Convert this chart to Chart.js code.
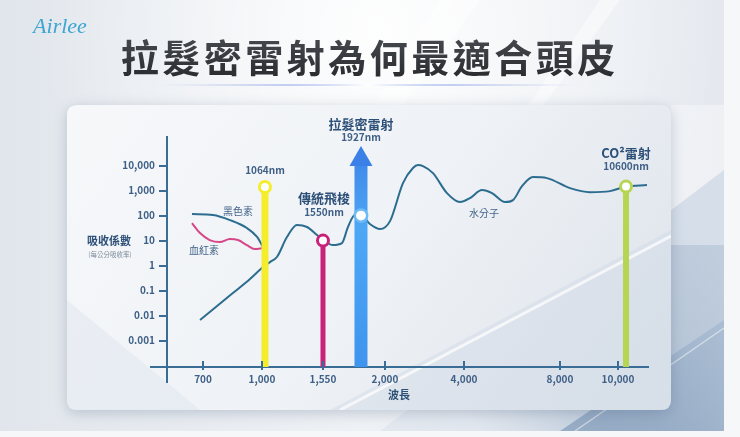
<!DOCTYPE html>
<html><head><meta charset="utf-8">
<script src="https://cdn.jsdelivr.net/npm/chart.js@4.4.1/dist/chart.umd.min.js"></script>
<style>html,body{margin:0;padding:0;background:#f5f6f8;overflow:hidden}canvas{display:block}</style>
</head><body>
<canvas id="c" width="740" height="437"></canvas>
<script>
// ---------- data ----------
const xTickWavelengths = [700, 1000, 1550, 2000, 4000, 8000, 10000];
const xTickLabels = ['700', '1,000', '1,550', '2,000', '4,000', '8,000', '10,000'];
const yTickValues = [0.001, 0.01, 0.1, 1, 10, 100, 1000, 10000];
const yTickLabels = ['0.001', '0.01', '0.1', '1', '10', '100', '1,000', '10,000'];

const waterNm  = [685, 852, 939, 1021, 1106, 1164, 1248, 1332, 1416, 1500, 1550, 1649, 1738, 1798, 1867, 1927, 1954, 1985, 2127, 2455, 2708, 2835, 2961, 3215, 3569, 3899, 4250, 4750, 5167, 5709, 6042, 6417, 6875, 7459, 8345, 9035, 9724, 10600, 12175];
const waterAbs = [0.0066, 0.079, 0.29, 0.87, 1.38, 2.2, 13.8, 42, 35, 16.6, 10.5, 6.6, 7.9, 35, 105, 105, 46, 29, 60, 2000, 8000, 10500, 9500, 5000, 790, 347, 500, 1050, 790, 347, 417, 1500, 3470, 3160, 1260, 870, 955, 1450, 1660];

const melaninNm  = [644, 751, 837, 923, 975, 1021];
const melaninAbs = [115, 105, 66, 32, 14, 5.5];

const hemoNm  = [644, 685, 734, 785, 837, 878, 923, 963, 1021];
const hemoAbs = [50, 20, 10.5, 8.7, 11.5, 10.5, 6.6, 4.6, 5];

const laserTitles = ['', '傳統飛梭', '拉髮密雷射', 'CO²雷射'];
const laserLabels = ['1064nm', '1550nm', '1927nm', '10600nm'];
const laserNm  = [1064, 1550, 1927, 10600];
const laserAbs = [1400, 10, 100, 1450];
const arrowTopAbs = 18000;

const curveNames = ['黑色素', '血紅素', '水分子'];
const curveNameNm  = [878, 705, 4834];
const curveNameAbs = [151, 4.2, 126];

// ---------- axis (stylised, not to scale) ----------
const axisKnotNm   = [517, 700, 1000, 1064, 1550, 1927, 2000, 4000, 8000, 10000, 10600, 12250];
const axisKnotFrac = [0, 0.0748, 0.1975, 0.2037, 0.3243, 0.4033, 0.4532, 0.6175, 0.8170, 0.9376, 0.9543, 1];
function warp(nm) {
  const k = axisKnotNm, f = axisKnotFrac;
  let i = 0;
  while (i < k.length - 2 && nm > k[i + 1]) i++;
  return f[i] + (nm - k[i]) / (k[i + 1] - k[i]) * (f[i + 1] - f[i]);
}
const Y_MIN = 8.7e-5, Y_MAX = 1.4e5;

const AXIS = '#3a6d96', TICK = '#3e5f86', DARK = '#2d5078';
const FONT = '"Noto Sans CJK TC","Noto Sans",sans-serif';

function pts(xs, ys) { return xs.map((x, i) => ({ x: warp(x), y: ys[i] })); }

const laserColors = ['#f5ed2c', '#c8227a', '#4a9df0', '#b6d552'];
const laserWidths = [7, 5, 13, 6];

const datasets = [];
laserNm.forEach((nm, i) => {
  if (i === 2) {
    datasets.push({
      data: [{ x: warp(nm), y: Y_MIN }, { x: warp(nm), y: laserAbs[i] }, { x: warp(nm), y: arrowTopAbs }],
      borderColor: (c) => {
        const a = c.chart.chartArea; if (!a) return laserColors[i];
        const g = c.chart.ctx.createLinearGradient(0, a.top, 0, a.bottom);
        g.addColorStop(0, '#3a7fe6'); g.addColorStop(0.4, '#4ea7f5'); g.addColorStop(1, '#3f94ee');
        return g;
      },
      borderWidth: laserWidths[i], borderCapStyle: 'butt', tension: 0,
      pointRadius: [0, 6.2, 13.3], pointStyle: ['circle', 'circle', 'triangle'],
      pointBackgroundColor: ['rgba(0,0,0,0)', '#ffffff', '#3a80e7'],
      pointBorderColor: ['rgba(0,0,0,0)', '#6dbcf8', '#3a80e7'],
      pointBorderWidth: [0, 2.5, 0], order: 0, clip: false
    });
  } else {
    datasets.push({
      data: [{ x: warp(nm), y: Y_MIN }, { x: warp(nm), y: laserAbs[i] }],
      borderColor: laserColors[i], borderWidth: laserWidths[i], borderCapStyle: 'butt', tension: 0,
      pointRadius: [0, 5.5], pointBackgroundColor: ['rgba(0,0,0,0)', '#ffffff'],
      pointBorderColor: ['rgba(0,0,0,0)', laserColors[i]], pointBorderWidth: [0, 3], order: 0, clip: false
    });
  }
});
datasets.push({ data: pts(waterNm, waterAbs), borderColor: '#2c6d8f', borderWidth: 2, pointRadius: 0, cubicInterpolationMode: 'monotone', order: 1 });
datasets.push({ data: pts(melaninNm, melaninAbs), borderColor: '#2c6d8f', borderWidth: 2, pointRadius: 0, cubicInterpolationMode: 'monotone', order: 1 });
datasets.push({ data: pts(hemoNm, hemoAbs), borderColor: '#d6478a', borderWidth: 2, pointRadius: 0, cubicInterpolationMode: 'monotone', order: 1 });

function roundRect(ctx, x, y, w, h, r) {
  ctx.beginPath();
  ctx.moveTo(x + r, y); ctx.lineTo(x + w - r, y); ctx.quadraticCurveTo(x + w, y, x + w, y + r);
  ctx.lineTo(x + w, y + h - r); ctx.quadraticCurveTo(x + w, y + h, x + w - r, y + h);
  ctx.lineTo(x + r, y + h); ctx.quadraticCurveTo(x, y + h, x, y + h - r);
  ctx.lineTo(x, y + r); ctx.quadraticCurveTo(x, y, x + r, y); ctx.closePath();
}

const bgPlugin = {
  id: 'bg',
  beforeDraw(chart) {
    const ctx = chart.ctx; ctx.save();
    ctx.fillStyle = '#f6f7f9'; ctx.fillRect(0, 0, 740, 437);
    let g = ctx.createLinearGradient(0, 0, 724, 0);
    g.addColorStop(0, '#e1e6ec'); g.addColorStop(0.5, '#eef1f5'); g.addColorStop(1, '#e5e9ef');
    ctx.fillStyle = g; ctx.fillRect(0, 0, 724, 431);
    let rg = ctx.createRadialGradient(380, 30, 10, 380, 30, 340);
    rg.addColorStop(0, 'rgba(255,255,255,0.9)'); rg.addColorStop(1, 'rgba(255,255,255,0)');
    ctx.fillStyle = rg; ctx.fillRect(0, 0, 724, 160);
    ctx.fillStyle = 'rgba(255,255,255,0.45)';
    ctx.beginPath(); ctx.moveTo(440, 0); ctx.lineTo(480, 0); ctx.lineTo(400, 110); ctx.lineTo(370, 110); ctx.fill();
    ctx.beginPath(); ctx.moveTo(600, 0); ctx.lineTo(620, 0); ctx.lineTo(540, 110); ctx.lineTo(525, 110); ctx.fill();
    ctx.beginPath(); ctx.moveTo(380, 431); ctx.lineTo(724, 170); ctx.lineTo(724, 431); ctx.closePath();
    g = ctx.createLinearGradient(480, 431, 724, 260);
    g.addColorStop(0, 'rgba(165,184,207,0.15)'); g.addColorStop(0.5, 'rgba(150,172,198,0.65)'); g.addColorStop(1, 'rgba(180,196,215,0.75)');
    ctx.fillStyle = g; ctx.fill();
    ctx.beginPath(); ctx.moveTo(560, 431); ctx.lineTo(724, 320); ctx.lineTo(724, 431); ctx.closePath();
    g = ctx.createLinearGradient(600, 431, 724, 340);
    g.addColorStop(0, 'rgba(130,155,185,0.7)'); g.addColorStop(1, 'rgba(165,185,208,0.8)');
    ctx.fillStyle = g; ctx.fill();
    ctx.strokeStyle = 'rgba(255,255,255,0.5)'; ctx.lineWidth = 1.5;
    ctx.beginPath(); ctx.moveTo(575, 431); ctx.lineTo(724, 328); ctx.stroke();
    ctx.fillStyle = 'rgba(255,255,255,0.35)'; ctx.fillRect(671, 105, 53, 140);
    ctx.save();
    ctx.shadowColor = 'rgba(70,90,120,0.28)'; ctx.shadowBlur = 14; ctx.shadowOffsetY = 3;
    roundRect(ctx, 67, 105, 604, 305, 10);
    g = ctx.createLinearGradient(67, 105, 560, 470);
    g.addColorStop(0, '#f6f8fa'); g.addColorStop(0.55, '#eff2f6'); g.addColorStop(1, '#dfe5ec');
    ctx.fillStyle = g; ctx.fill();
    ctx.restore();
    ctx.save(); roundRect(ctx, 67, 105, 604, 305, 10); ctx.clip();
    ctx.fillStyle = 'rgba(200,212,226,0.35)';
    ctx.beginPath(); ctx.moveTo(330, 410); ctx.lineTo(671, 230); ctx.lineTo(671, 410); ctx.closePath(); ctx.fill();
    ctx.strokeStyle = 'rgba(255,255,255,0.7)'; ctx.lineWidth = 3;
    ctx.beginPath(); ctx.moveTo(340, 410); ctx.lineTo(671, 236); ctx.stroke();
    ctx.fillStyle = 'rgba(215,224,234,0.35)';
    ctx.beginPath(); ctx.moveTo(67, 300); ctx.lineTo(200, 410); ctx.lineTo(67, 410); ctx.closePath(); ctx.fill();
    ctx.restore();
    // logo
    ctx.fillStyle = '#3ea5d0'; ctx.font = 'italic 22px "Liberation Serif","DejaVu Serif",serif';
    ctx.textAlign = 'center'; ctx.textBaseline = 'middle';
    ctx.fillText('Airlee', 60, 27);
    // title
    const title = '拉髮密雷射為何最適合頭皮';
    ctx.font = 'bold 38px ' + FONT;
    g = ctx.createLinearGradient(0, 38, 0, 76);
    g.addColorStop(0, '#45484d'); g.addColorStop(1, '#2b2d31');
    ctx.fillStyle = g; ctx.textAlign = 'center';
    const adv = 41.5, start = 368 - adv * (title.length - 1) / 2;
    for (let i = 0; i < title.length; i++) ctx.fillText(title[i], start + i * adv, 58);
    g = ctx.createLinearGradient(160, 0, 576, 0);
    g.addColorStop(0, 'rgba(150,170,230,0)'); g.addColorStop(0.3, 'rgba(150,170,232,0.55)');
    g.addColorStop(0.5, 'rgba(255,255,255,1)'); g.addColorStop(0.7, 'rgba(150,170,232,0.55)'); g.addColorStop(1, 'rgba(150,170,230,0)');
    ctx.fillStyle = g; ctx.fillRect(160, 84, 416, 2);
    ctx.restore();
  }
};

const textPlugin = {
  id: 'texts',
  afterDraw(chart) {
    const ctx = chart.ctx, xs = chart.scales.x, ys = chart.scales.y, a = chart.chartArea;
    ctx.save();
    ctx.strokeStyle = AXIS; ctx.lineWidth = 2;
    ctx.beginPath(); ctx.moveTo(150, a.bottom); ctx.lineTo(a.left, a.bottom);
    ctx.moveTo(a.left, a.bottom); ctx.lineTo(a.left, a.bottom + 16); ctx.stroke();
    xTickWavelengths.forEach(nm => {
      const px = xs.getPixelForValue(warp(nm));
      ctx.beginPath(); ctx.moveTo(px, a.bottom - 6); ctx.lineTo(px, a.bottom + 3); ctx.stroke();
    });
    ctx.textAlign = 'center'; ctx.textBaseline = 'middle';
    ctx.fillStyle = '#44658a'; ctx.font = '10px ' + FONT;
    curveNames.forEach((n, i) => ctx.fillText(n, xs.getPixelForValue(warp(curveNameNm[i])), ys.getPixelForValue(curveNameAbs[i])));
    const titleY = [0, 198, 124, 153], labelY = [170, 212, 137, 166];
    laserNm.forEach((nm, i) => {
      const px = xs.getPixelForValue(warp(nm));
      if (laserTitles[i]) { ctx.fillStyle = DARK; ctx.font = 'bold 13px ' + FONT; ctx.fillText(laserTitles[i], px + (i === 1 ? 1 : 0), titleY[i]); }
      ctx.fillStyle = TICK; ctx.font = 'bold 10px ' + FONT; ctx.fillText(laserLabels[i], px + (i === 1 ? 1 : 0), labelY[i]);
    });
    ctx.fillStyle = DARK; ctx.font = 'bold 11px ' + FONT;
    ctx.fillText('吸收係數', 109, 241);
    ctx.fillStyle = '#7d8b9a'; ctx.font = '6.5px ' + FONT;
    ctx.fillText('(每公分吸收率)', 110, 255);
    ctx.fillStyle = DARK; ctx.font = 'bold 11px ' + FONT;
    ctx.fillText('波長', 399, 395);
    ctx.restore();
  }
};

new Chart(document.getElementById('c'), {
  type: 'line',
  data: { datasets },
  options: {
    responsive: false, animation: false, devicePixelRatio: 1,
    layout: { padding: { left: 0, right: 92, top: 137, bottom: 0 } },
    plugins: { legend: { display: false }, tooltip: { enabled: false } },
    scales: {
      x: {
        type: 'linear', min: 0, max: 1,
        afterFit: s => { s.height = 70; },
        afterBuildTicks: s => { s.ticks = xTickWavelengths.map(nm => ({ value: warp(nm) })); },
        ticks: { callback: (v, i) => xTickLabels[i], color: TICK, font: { family: FONT, size: 10, weight: 'bold' }, padding: 6, autoSkip: false, maxRotation: 0 },
        grid: { display: false, drawTicks: false },
        border: { display: true, color: AXIS, width: 2 }
      },
      y: {
        type: 'logarithmic', min: Y_MIN, max: Y_MAX,
        afterFit: s => { s.width = 167; },
        afterBuildTicks: s => { s.ticks = yTickValues.map(v => ({ value: v })); },
        ticks: { callback: (v, i) => yTickLabels[i], color: TICK, font: { family: FONT, size: 10, weight: 'bold' }, padding: 4, autoSkip: false },
        grid: { display: true, drawOnChartArea: false, drawTicks: true, tickLength: 8, color: AXIS, lineWidth: 2 },
        border: { display: true, color: AXIS, width: 2 }
      }
    }
  },
  plugins: [bgPlugin, textPlugin]
});
</script>
</body></html>
